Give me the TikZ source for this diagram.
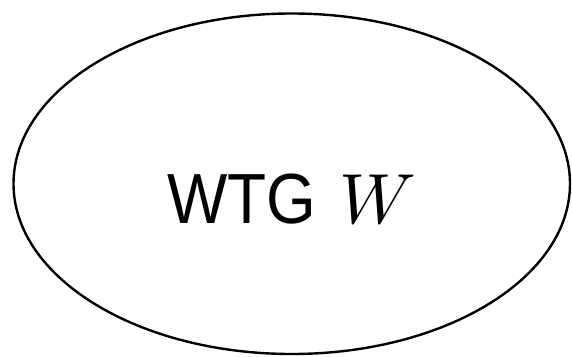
\documentclass[tikz,border=0pt]{standalone}
\usepackage{fontspec}
\usepackage{unicode-math}
\setmainfont{Liberation Sans}
\setmathfont{Latin Modern Math}
\newfontfamily\wtgfont[FakeStretch=0.9]{Liberation Sans}
\usetikzlibrary{shapes.geometric}

\begin{document}
\begin{tikzpicture}[x=1pt,y=-1pt]
		\useasboundingbox (0,0) rectangle (572,356);

		\node[ellipse,draw,line width=2.4pt,minimum width=556.5pt,minimum height=340.5pt,inner sep=0pt] (wtg) at (291.75,183.75) {};

		\node[anchor=base,inner sep=0pt,font=\fontsize{71}{80}\wtgfont] (wtglabel) at (291.5,223) {WTG\hspace{23pt}$W$};
	\end{tikzpicture}
\end{document}
